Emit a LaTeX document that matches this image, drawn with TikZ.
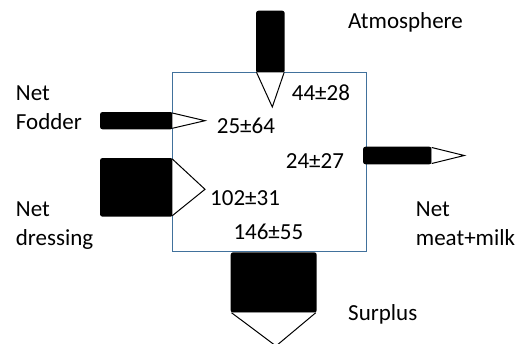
\documentclass[tikz,border=0pt]{standalone}
\usepackage{fontspec}
\setmainfont{Carlito}
\begin{document}
\begin{tikzpicture}[x=1pt,y=-1pt,
  lbl/.style={anchor=base west,inner sep=0pt,font=\fontsize{23}{28}\selectfont},
  bar/.style={fill=black,rounded corners=2.5pt},
  tip/.style={draw=black,fill=white,line width=1pt,line join=miter},
  boxline/.style={draw=boxblue,line width=1pt}]
\definecolor{boxblue}{HTML}{41719C}
\useasboundingbox (0,0) rectangle (522,343);
\begin{scope}
\clip (0,0) rectangle (522,343);
% central box
\node[boxline,minimum width=193.4pt,minimum height=178.4pt,inner sep=0pt,anchor=north west] (box) at (172.3,72.3) {};
% Atmosphere input (top)
\fill[bar] (256,10.7) rectangle (284.7,73);
\draw[tip] (256.5,72.3) -- (272.3,107) -- (284.2,72.3);
% Net fodder input (left)
\fill[bar] (100,112) rectangle (173,129.3);
\draw[tip] (172.3,113) -- (205,120.7) -- (172.3,128.3);
% Net dressing input (left)
\fill[bar] (100,158) rectangle (173,216.7);
\draw[tip] (172.3,159) -- (205,189.3) -- (172.3,215.7);
% Net meat+milk output (right)
\fill[bar] (363,146.7) rectangle (431.7,164.3);
\draw[tip] (431.7,147.5) -- (464.3,155.5) -- (431.7,163.5);
% Surplus output (bottom)
\fill[bar] (230.7,252.3) rectangle (316.7,312.7);
\draw[tip] (231.5,312.7) -- (276,346) -- (315.8,312.7);
\end{scope}
% labels
\node[lbl] (atm) at (348,28.3) {Atmosphere};
\node[lbl] (fod1) at (15.7,100) {Net};
\node[lbl] (fod2) at (15.7,129) {Fodder};
\node[lbl] (dre1) at (15.7,216.7) {Net};
\node[lbl] (dre2) at (15.7,245) {dressing};
\node[lbl] (mm1) at (415.7,216.7) {Net};
\node[lbl] (mm2) at (415.7,245) {meat+milk};
\node[lbl] (sur) at (348,320.3) {Surplus};
% values
\node[lbl] (v44) at (291.7,100.7) {44±28};
\node[lbl] (v25) at (216.7,133) {25±64};
\node[lbl] (v24) at (285.7,168.3) {24±27};
\node[lbl] (v102) at (210,205) {102±31};
\node[lbl] (v146) at (233.3,239.3) {146±55};
\end{tikzpicture}
\end{document}
